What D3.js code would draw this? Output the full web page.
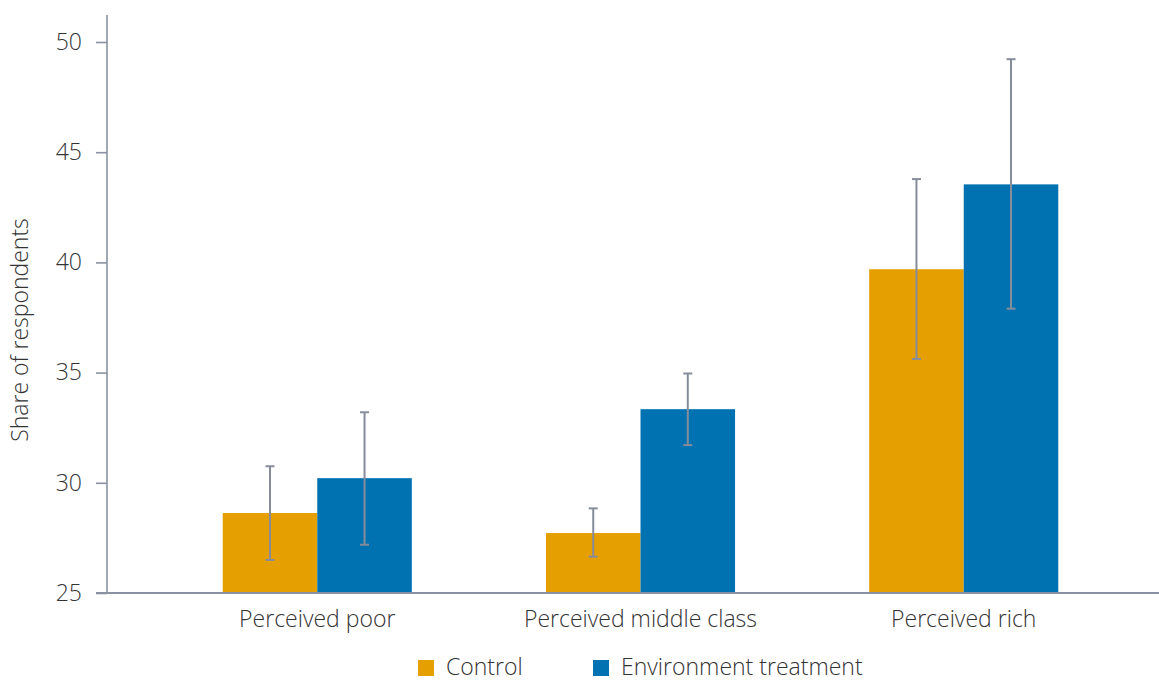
<!DOCTYPE html>
<html>
<head>
<meta charset="utf-8">
<script src="https://cdn.jsdelivr.net/npm/d3@7"></script>
<style>
  html, body { margin: 0; padding: 0; background: #fff; }
  svg { display: block; font-family: "Open Sans", sans-serif; font-weight: 300; }
</style>
</head>
<body>
<svg id="chart" width="1159" height="681"></svg>
<script>
// Categories, series and tick labels
const categories = ["Perceived poor", "Perceived middle class", "Perceived rich"];
const seriesNames = ["Control", "Environment treatment"];
const yTicks = [25, 30, 35, 40, 45, 50];

// Share of respondents (%) with confidence interval bounds
const controlValues = [28.63, 27.72, 39.69];
const controlLow    = [26.50, 26.65, 35.62];
const controlHigh   = [30.75, 28.84, 43.78];

const treatmentValues = [30.21, 33.34, 43.54];
const treatmentLow    = [27.19, 31.71, 37.90];
const treatmentHigh   = [33.20, 34.96, 49.22];

const colors = ["#E69F00", "#0072B2"];
const axisColor = "#8a91a1";
const errColor = "#868c9a";
const textColor = "#333";
const fontSize = "23px";

const series = [
  { name: seriesNames[0], values: controlValues, low: controlLow, high: controlHigh },
  { name: seriesNames[1], values: treatmentValues, low: treatmentLow, high: treatmentHigh }
];

const svg = d3.select("#chart");

const y = d3.scaleLinear().domain([25, 50]).range([593, 42]);
const x0 = d3.scaleBand().domain(categories).range([107, 1174])
  .paddingInner(0.415).paddingOuter(0.358);
const x1 = d3.scaleBand().domain(seriesNames).range([0, x0.bandwidth()]);

// Bars
const groups = svg.append("g").selectAll("g")
  .data(categories)
  .join("g")
  .attr("transform", d => `translate(${x0(d)},0)`);

groups.selectAll("rect")
  .data((d, i) => series.map((s, j) => ({ s: s.name, v: s.values[i], j })))
  .join("rect")
  .attr("x", d => x1(d.s))
  .attr("width", x1.bandwidth())
  .attr("y", d => y(d.v))
  .attr("height", d => y(25) - y(d.v))
  .attr("fill", d => colors[d.j]);

// Y axis
const yAxis = svg.append("g")
  .attr("transform", "translate(107,0)")
  .call(d3.axisLeft(y).tickValues(yTicks).tickSize(11).tickPadding(14).tickFormat(d3.format("d")));
yAxis.select(".domain").remove();
yAxis.selectAll(".tick line").attr("stroke", axisColor).attr("stroke-width", 1.6);
yAxis.selectAll(".tick text").attr("fill", textColor).style("font-size", fontSize)
  .style("font-family", "'Open Sans', sans-serif").style("font-weight", 300);

svg.append("line")
  .attr("x1", 107).attr("x2", 107).attr("y1", 15).attr("y2", y(25))
  .attr("stroke", axisColor).attr("stroke-width", 1.6);

// Error bars
const errG = svg.append("g");
categories.forEach((c, i) => {
  series.forEach(s => {
    const cx = x0(c) + x1(s.name) + x1.bandwidth() / 2;
    const g = errG.append("g").attr("stroke", errColor).attr("stroke-width", 2);
    g.append("line").attr("x1", cx).attr("x2", cx).attr("y1", y(s.low[i])).attr("y2", y(s.high[i]));
    g.append("line").attr("x1", cx - 4.5).attr("x2", cx + 4.5).attr("y1", y(s.high[i])).attr("y2", y(s.high[i]));
    g.append("line").attr("x1", cx - 4.5).attr("x2", cx + 4.5).attr("y1", y(s.low[i])).attr("y2", y(s.low[i]));
  });
});

// X axis baseline and category labels
svg.append("line")
  .attr("x1", 96).attr("x2", 1159).attr("y1", y(25)).attr("y2", y(25))
  .attr("stroke", axisColor).attr("stroke-width", 2);

svg.append("g").selectAll("text")
  .data(categories)
  .join("text")
  .attr("x", d => x0(d) + x0.bandwidth() / 2)
  .attr("y", 627)
  .attr("text-anchor", "middle")
  .attr("fill", textColor)
  .style("font-size", fontSize)
  .text(d => d);

// Y axis title
svg.append("text")
  .attr("transform", "translate(28,330) rotate(-90)")
  .attr("text-anchor", "middle")
  .attr("fill", textColor)
  .style("font-size", fontSize)
  .text("Share of respondents");

// Legend
const legendX = [418, 593];
const legend = svg.append("g").selectAll("g")
  .data(seriesNames)
  .join("g")
  .attr("transform", (d, i) => `translate(${legendX[i]},660)`);
legend.append("rect").attr("width", 16).attr("height", 16).attr("fill", (d, i) => colors[i]);
legend.append("text")
  .attr("x", 28).attr("y", 15)
  .attr("fill", textColor)
  .style("font-size", fontSize)
  .text(d => d);
</script>
</body>
</html>
